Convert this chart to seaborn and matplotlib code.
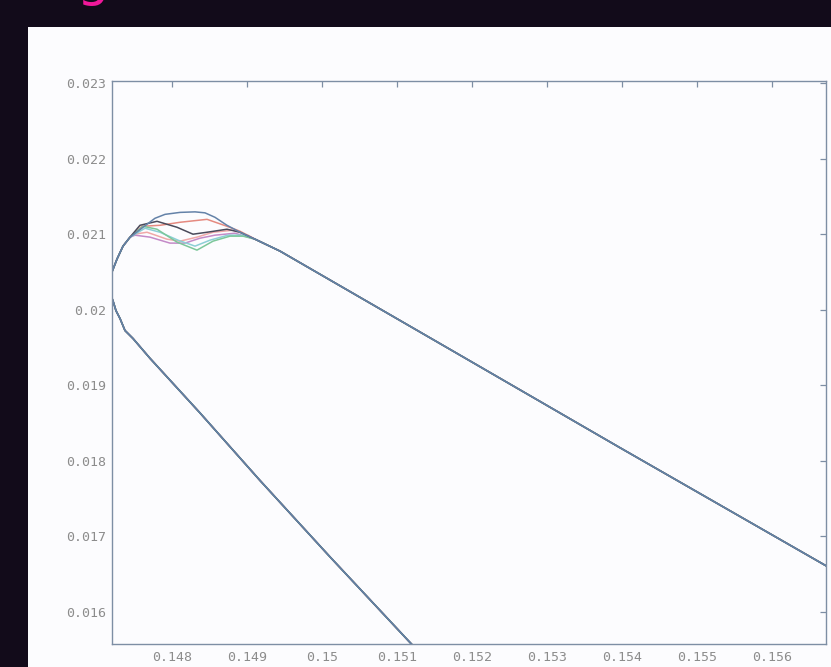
import matplotlib
matplotlib.use("Agg")
import matplotlib.pyplot as plt
import matplotlib.patches as mpatches
from matplotlib.ticker import FixedLocator, FuncFormatter
import numpy as np
import pandas as pd
import seaborn as sns

# ── Data ──────────────────────────────────────────────────────────
# shared lower branch (from the bottom edge up to the left tip)
lower_x = [0.151347, 0.151147, 0.150107, 0.149173, 0.148373, 0.147707,
           0.147480, 0.147373, 0.147307, 0.147253, 0.147213, 0.147140]
lower_y = [0.015408, 0.015618, 0.016724, 0.017737, 0.018632, 0.019355,
           0.019618, 0.019724, 0.019882, 0.019987, 0.020118, 0.020300]

# shared rising part just right of the tip
rise_x = [0.147200, 0.147267, 0.147347, 0.147440]
rise_y = [0.020500, 0.020671, 0.020842, 0.020960]

# hump, one per series
humps = {
    "red": ([0.147600, 0.147840, 0.148107, 0.148467, 0.148733, 0.148907],
            [0.021105, 0.021118, 0.021158, 0.021197, 0.021105, 0.021039]),
    "pink": ([0.147500, 0.147667, 0.147933, 0.148107, 0.148333, 0.148547, 0.148813, 0.149013],
             [0.021000, 0.021026, 0.020934, 0.020908, 0.020961, 0.021026, 0.021053, 0.020987]),
    "magenta": ([0.147507, 0.147707, 0.147973, 0.148173, 0.148373, 0.148573, 0.148840],
                [0.020987, 0.020961, 0.020882, 0.020882, 0.020947, 0.020987, 0.021013]),
    "cyan": ([0.147640, 0.147840, 0.148080, 0.148307, 0.148507, 0.148747, 0.148973],
             [0.021079, 0.021026, 0.020921, 0.020842, 0.020921, 0.020987, 0.020987]),
    "green": ([0.147613, 0.147800, 0.148067, 0.148333, 0.148547, 0.148773, 0.148947],
              [0.021105, 0.021066, 0.020895, 0.020789, 0.020908, 0.020974, 0.020974]),
    "black": ([0.147573, 0.147800, 0.148067, 0.148280, 0.148467, 0.148733, 0.148907],
              [0.021118, 0.021171, 0.021092, 0.021000, 0.021026, 0.021066, 0.021026]),
    "blue": ([0.147667, 0.147773, 0.147907, 0.148107, 0.148307, 0.148440, 0.148573, 0.148733, 0.148907],
             [0.021132, 0.021211, 0.021263, 0.021289, 0.021296, 0.021283, 0.021224, 0.021118, 0.021026]),
}

# shared descending tail
tail_x = [0.149107, 0.149440, 0.151707, 0.153973, 0.156907]
tail_y = [0.020934, 0.020776, 0.019474, 0.018171, 0.016500]

x_ticks = [0.148, 0.149, 0.150, 0.151, 0.152, 0.153, 0.154, 0.155, 0.156]
y_ticks = [0.016, 0.017, 0.018, 0.019, 0.020, 0.021, 0.022, 0.023]

colors = {
    "red": "#e58a80",
    "pink": "#f0a8a8",
    "magenta": "#c48ac8",
    "cyan": "#8ccfd6",
    "green": "#7cc79a",
    "black": "#4a4a5a",
    "blue": "#6482a8",
}

rows = []
for name, (hx, hy) in humps.items():
    xs = lower_x + rise_x + hx + tail_x
    ys = lower_y + rise_y + hy + tail_y
    for i, (a, b) in enumerate(zip(xs, ys)):
        rows.append({"series": name, "order": i, "x": a, "y": b})
df = pd.DataFrame(rows)

# ── Figure ────────────────────────────────────────────────────────
sns.set_style("white")
plt.rcParams["font.family"] = ["DejaVu Sans Mono", "DejaVu Sans"]

fig = plt.figure(figsize=(8.31, 6.67), dpi=100)
fig.patch.set_facecolor("#120b1a")

# white panel behind the plot
fig.patches.append(mpatches.Rectangle((28 / 831, 0), 1 - 28 / 831, 1 - 27 / 667,
                                      transform=fig.transFigure, facecolor="#fcfcfe",
                                      edgecolor="none", zorder=-10))

# cut-off title above the panel
fig.text(76 / 831, 1 + 5 / 667, "g", color="#f0189a", fontsize=37,
         family="DejaVu Sans", va="baseline", ha="left")

ax = fig.add_axes([112 / 831, 1 - 644 / 667, 714 / 831, 563 / 667])
ax.set_facecolor("#fcfcfe")

sns.lineplot(data=df, x="x", y="y", hue="series", units="series",
             estimator=None, sort=False, palette=colors,
             hue_order=list(humps.keys()), linewidth=1.1, legend=False, ax=ax)

ax.set_xlim(0.1472, 0.15672)
ax.set_ylim(0.01557, 0.02303)
ax.xaxis.set_major_locator(FixedLocator(x_ticks))
ax.yaxis.set_major_locator(FixedLocator(y_ticks))
fmt = FuncFormatter(lambda v, p: "%g" % round(v, 6))
ax.xaxis.set_major_formatter(fmt)
ax.yaxis.set_major_formatter(fmt)
ax.set_xlabel("")
ax.set_ylabel("")

spine_color = "#7d8ea4"
for s in ax.spines.values():
    s.set_visible(True)
    s.set_color(spine_color)
    s.set_linewidth(1.0)

ax.tick_params(direction="in", length=4.5, width=0.9, color=spine_color,
               top=True, right=True, labelsize=9.5, labelcolor="#8c8c8c")
ax.tick_params(axis="x", pad=5)
ax.tick_params(axis="y", pad=4)

fig.savefig("out.png", dpi=100, facecolor=fig.get_facecolor())
